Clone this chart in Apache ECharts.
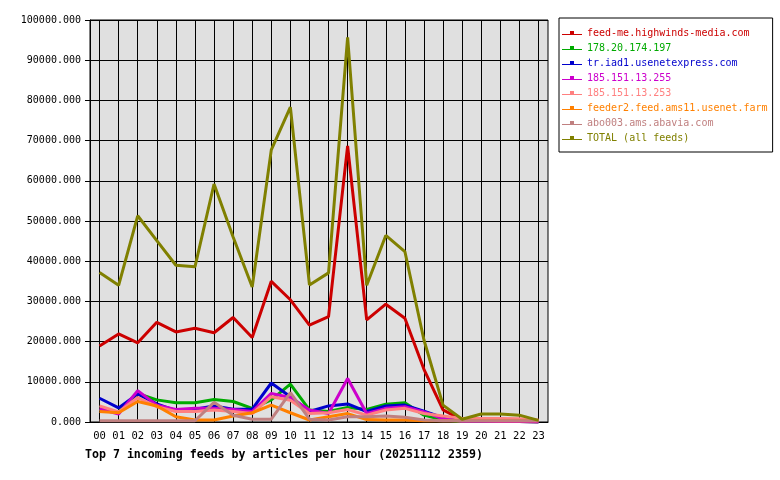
<!DOCTYPE html>
<html>
<head>
<meta charset="utf-8">
<script src="https://cdn.jsdelivr.net/npm/echarts@6/dist/echarts.min.js"></script>
<style>
  html, body { margin: 0; padding: 0; background: #fff; }
  #feeds { width: 780px; height: 480px; }
</style>
</head>
<body>
<div id="feeds"></div>
<script>
// hours of the day
var hours = ["00", "01", "02", "03", "04", "05", "06", "07", "08", "09", "10", "11",
  "12", "13", "14", "15", "16", "17", "18", "19", "20", "21", "22", "23"];

// articles per hour, one array per feed
var highwinds = [18900, 21900, 19700, 24800, 22400, 23300, 22200, 26000, 21000, 35000, 30400, 24100,
  26200, 68700, 25400, 29300, 25800, 13100, 3000, 500, 200, 200, 100, 0];
var ip174197 = [3150, 2500, 7100, 5500, 4800, 4800, 5600, 5100, 3400, 5500, 9400, 3000,
  2600, 3600, 3100, 4400, 4800, 1700, 500, 100, 100, 100, 100, 0];
var usenetexpress = [5900, 3500, 7000, 4500, 2800, 3200, 4000, 3200, 3200, 9700, 6300, 2600,
  4000, 4500, 2600, 4000, 4200, 2700, 1100, 200, 100, 100, 100, 0];
var ip13255 = [3300, 2000, 7800, 4200, 3100, 3400, 3400, 3100, 2600, 7100, 6100, 3000,
  2100, 10800, 2100, 3400, 3800, 2500, 800, 200, 200, 100, 100, 0];
var ip13253 = [4000, 2500, 6100, 3800, 2600, 2600, 3000, 2600, 2100, 6300, 5400, 2100,
  2300, 3100, 1700, 3000, 3400, 2100, 1500, 900, 900, 900, 800, 500];
var feeder2 = [2600, 2300, 5100, 4000, 1300, 500, 500, 1500, 2300, 4200, 2300, 500,
  1300, 2100, 600, 500, 500, 300, 300, 300, 300, 300, 300, 300];
var abavia = [300, 300, 300, 300, 300, 300, 4900, 1700, 700, 700, 7300, 700,
  500, 1300, 1300, 1500, 1200, 500, 300, 300, 300, 300, 300, 300];
var total = [37200, 34000, 51300, 45100, 39000, 38600, 59200, 46000, 33600, 67700, 78300, 34100,
  37100, 95700, 34000, 46400, 42400, 20400, 4200, 700, 2000, 2000, 1700, 400];

var feedNames = ["feed-me.highwinds-media.com", "178.20.174.197", "tr.iad1.usenetexpress.com",
  "185.151.13.255", "185.151.13.253", "feeder2.feed.ams11.usenet.farm", "abo003.ams.abavia.com",
  "TOTAL (all feeds)"];
var feedData = [highwinds, ip174197, usenetexpress, ip13255, ip13253, feeder2, abavia, total];
var feedColors = ["#cc0000", "#00aa00", "#0000cc", "#cc00cc", "#ff8080", "#ff8000", "#c08080", "#808000"];

var mono = "DejaVu Sans Mono";

var chart = echarts.init(document.getElementById("feeds"));

var series = feedNames.map(function (name, i) {
  return {
    name: name,
    type: "line",
    data: feedData[i],
    showSymbol: false,
    symbol: "rect",
    color: feedColors[i],
    lineStyle: { width: 3, color: feedColors[i] },
    emphasis: { disabled: true },
    animation: false,
    z: 2 + i,
  };
});

var option = {
  animation: false,
  title: {
    text: "Top 7 incoming feeds by articles per hour (20251112 2359)",
    left: 80,
    top: 444,
    textStyle: { fontFamily: mono, fontSize: 11.6, fontWeight: "bold", color: "#000" },
  },
  legend: {
    orient: "vertical",
    left: 559,
    top: 18,
    padding: [9, 5, 8, 3],
    itemGap: 3,
    itemWidth: 20,
    itemHeight: 4,
    symbolKeepAspect: false,
    icon: "path://M0,3H8V0H12V3H20V4H0Z",
    backgroundColor: "#fff",
    borderColor: "#000",
    borderWidth: 1,
    borderRadius: 0,
    selectedMode: false,
    textStyle: { fontFamily: mono, fontSize: 10, lineHeight: 12 },
    data: feedNames.map(function (name, i) {
      return { name: name, textStyle: { color: feedColors[i] } };
    }),
  },
  grid: {
    left: 90,
    right: 232,
    top: 20,
    bottom: 58,
    show: true,
    backgroundColor: "#e0e0e0",
    borderColor: "#000",
    borderWidth: 1,
  },
  xAxis: {
    type: "category",
    data: hours,
    boundaryGap: true,
    axisLine: { lineStyle: { color: "#000" } },
    axisTick: { alignWithLabel: true, length: 5, lineStyle: { color: "#000" } },
    axisLabel: { fontFamily: mono, fontSize: 10.5, color: "#000", margin: 9 },
    splitLine: { show: true, alignWithLabel: true, lineStyle: { color: "#000", width: 1 } },
  },
  yAxis: {
    type: "value",
    min: 0,
    max: 100000,
    interval: 10000,
    axisLine: { show: true, lineStyle: { color: "#000" } },
    axisTick: { show: true, length: 5, lineStyle: { color: "#000" } },
    axisLabel: {
      fontFamily: mono,
      fontSize: 10,
      color: "#000",
      margin: 9,
      formatter: function (v) { return v.toFixed(3); },
    },
    splitLine: { show: true, lineStyle: { color: "#000", width: 1 } },
  },
  series: series,
};

chart.setOption(option);
</script>
</body>
</html>
